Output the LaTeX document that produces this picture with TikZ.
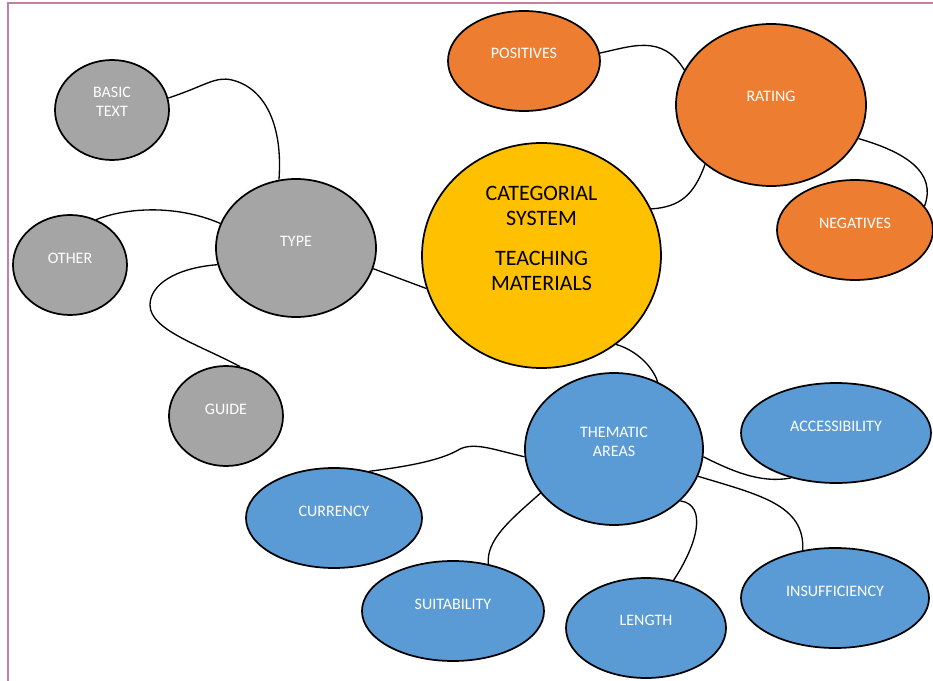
\documentclass[tikz,border=0pt]{standalone}
\usepackage{fontspec}
\setmainfont{Carlito}
\usetikzlibrary{shapes.geometric}

\definecolor{greyfill}{RGB}{165,165,165}
\definecolor{orangefill}{RGB}{237,125,49}
\definecolor{goldfill}{RGB}{255,192,0}
\definecolor{bluefill}{RGB}{91,155,213}
\definecolor{framecol}{RGB}{196,128,160}

\tikzset{
  bubble/.style={ellipse, draw=black, line width=1.3pt, inner sep=0pt},
  ell/.style 2 args={minimum width=#1*1.5pt, minimum height=#2*1.5pt},
  lbl/.style={text=white, align=center, inner sep=0pt,
              font=\fontsize{12}{14.4}\selectfont},
  mainlbl/.style={text=black, align=center, inner sep=0pt,
              font=\fontsize{16.5}{18.75}\selectfont},
  link/.style={draw=black, line width=1pt},
  frameline/.style={draw=framecol, line width=1pt}
}

\begin{document}
\begin{tikzpicture}[x=0.75pt, y=-0.75pt]
\useasboundingbox (0,0) rectangle (933,681);
\draw[frameline] (933,3) -- (8,3) -- (8,681);

% central topic
\node[bubble, fill=goldfill, ell={119.5}{112.5}] (cat) at (541.5,255.5) {};
\node[mainlbl] (cat-t) at ([yshift=12.75pt]cat.center)
  {CATEGORIAL\\SYSTEM\\[11.25pt]TEACHING\\MATERIALS};

% type branch
\node[bubble, fill=greyfill, ell={80}{69}] (type) at (296,248) {};
\node[lbl] (type-t) at ([yshift=5.25pt]type.center) {TYPE};
\node[bubble, fill=greyfill, ell={57}{50}] (basic) at (112,110) {};
\node[lbl] (basic-t) at ([yshift=6.4pt]basic.center) {BASIC\\TEXT};
\node[bubble, fill=greyfill, ell={57}{50}] (other) at (70,265) {};
\node[lbl] (other-t) at ([yshift=5.25pt]other.center) {OTHER};
\node[bubble, fill=greyfill, ell={57}{50}] (guide) at (226,416) {};
\node[lbl] (guide-t) at ([yshift=5.25pt]guide.center) {GUIDE};

% rating branch
\node[bubble, fill=orangefill, ell={95}{81}] (rating) at (771,105) {};
\node[lbl] (rating-t) at ([yshift=6.5pt]rating.center) {RATING};
\node[bubble, fill=orangefill, ell={76}{50}] (pos) at (524,61) {};
\node[lbl] (pos-t) at ([yshift=6pt]pos.center) {POSITIVES};
\node[bubble, fill=orangefill, ell={78}{50}] (neg) at (855,230) {};
\node[lbl] (neg-t) at ([yshift=5.25pt]neg.center) {NEGATIVES};

% thematic areas branch
\node[bubble, fill=bluefill, ell={89}{76}] (them) at (614,449) {};
\node[lbl] (them-t) at ([yshift=5.25pt]them.center) {THEMATIC\\AREAS};
\node[bubble, fill=bluefill, ell={95}{50}] (acc) at (836,433) {};
\node[lbl] (acc-t) at ([yshift=5.25pt]acc.center) {ACCESSIBILITY};
\node[bubble, fill=bluefill, ell={88}{50}] (cur) at (334,518) {};
\node[lbl] (cur-t) at ([yshift=5.25pt]cur.center) {CURRENCY};
\node[bubble, fill=bluefill, ell={91}{50}] (suit) at (453,611) {};
\node[lbl] (suit-t) at ([yshift=5.25pt]suit.center) {SUITABILITY};
\node[bubble, fill=bluefill, ell={80}{50}] (len) at (646,628) {};
\node[lbl] (len-t) at ([yshift=6pt]len.center) {LENGTH};
\node[bubble, fill=bluefill, ell={94}{50}] (ins) at (835,598) {};
\node[lbl] (ins-t) at ([yshift=5.25pt]ins.center) {INSUFFICIENCY};

% connectors
\draw[link] (basic.12) .. controls (205,86) and (215,76) .. (232,80)
            .. controls (265,88) and (283,125) .. (type.104);
\draw[link] (other.60) .. controls (125,208) and (175,204) .. (type.162);
\draw[link] (type.192) .. controls (175,268) and (150,285) .. (150,305)
            .. controls (150,330) and (200,345) .. (guide.74);
\draw[link] (type.345) -- (cat.196);
\draw[link] (cat.23) .. controls (680,207) and (694,195) .. (rating.222);
\draw[link] (pos.6) .. controls (630,47) and (662,33) .. (rating.158);
\draw[link] (rating.339) .. controls (905,152) and (937,172) .. (neg.19);
\draw[link] (cat.310) .. controls (635,350) and (652,365) .. (them.57);
\draw[link] (them.185) .. controls (495,450) and (475,442) .. (460,449)
            .. controls (445,458) and (420,465) .. (cur.53);
\draw[link] (them.211) .. controls (510,520) and (486,540) .. (suit.53);
\draw[link] (them.322) .. controls (708,505) and (697,545) .. (len.60);
\draw[link] (them.342) .. controls (760,495) and (805,505) .. (ins.124);
\draw[link] (them.355) .. controls (730,470) and (760,484) .. (acc.225);
\end{tikzpicture}
\end{document}
